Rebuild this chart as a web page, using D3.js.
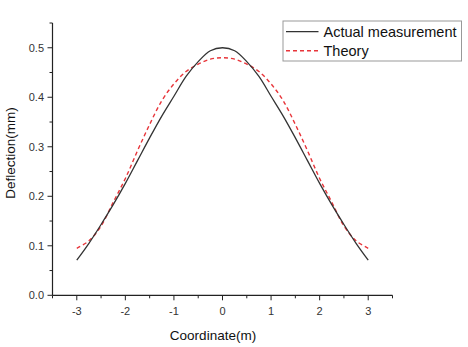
<!DOCTYPE html>
<html><head><meta charset="utf-8">
<script src="https://cdn.jsdelivr.net/npm/d3@7"></script>
<style>body{margin:0;background:#fff}svg{display:block}text{font-family:"Liberation Sans",Arial,sans-serif}</style>
</head><body>
<script>
const xs = [-3,-2.75,-2.5,-2.25,-2,-1.75,-1.5,-1.25,-1,-0.75,-0.5,-0.25,0,0.25,0.5,0.75,1,1.25,1.5,1.75,2,2.25,2.5,2.75,3];
const actual = [0.071,0.105,0.143,0.183,0.226,0.272,0.318,0.362,0.402,0.442,0.472,0.494,0.500,0.494,0.472,0.442,0.402,0.362,0.318,0.272,0.226,0.183,0.143,0.105,0.071];
const theory = [0.095,0.110,0.140,0.188,0.236,0.292,0.345,0.393,0.427,0.452,0.467,0.477,0.480,0.477,0.467,0.452,0.427,0.393,0.345,0.292,0.236,0.188,0.140,0.110,0.095];
const xTicks = [-3,-2,-1,0,1,2,3];
const yTicks = [0.0,0.1,0.2,0.3,0.4,0.5];
const seriesNames = ["Actual measurement","Theory"];

const W=468,H=347;
const svg=d3.select("body").append("svg").attr("width",W).attr("height",H);
const x=d3.scaleLinear().domain([-3.5,3.5]).range([52.5,392.5]);
const y=d3.scaleLinear().domain([0,0.55]).range([295.3,23]);

const axisColor="#222";
// x axis
const gx=svg.append("g").attr("transform","translate(0,295.3)");
gx.append("line").attr("x1",x(-3.5)).attr("x2",x(3.5)).attr("stroke",axisColor).attr("stroke-width",1.2);
d3.range(-3.5,3.51,0.5).forEach(v=>{
  const major=Number.isInteger(v);
  gx.append("line").attr("x1",x(v)).attr("x2",x(v)).attr("y1",0).attr("y2",major?5:3).attr("stroke",axisColor).attr("stroke-width",1);
});
xTicks.forEach(v=>gx.append("text").attr("x",x(v)).attr("y",20).attr("text-anchor","middle").attr("font-size",11).attr("fill","#333").text(v));
// y axis
const gy=svg.append("g").attr("transform","translate(52.5,0)");
gy.append("line").attr("y1",y(0)).attr("y2",y(0.55)).attr("stroke",axisColor).attr("stroke-width",1.2);
d3.range(0,0.551,0.05).forEach((v,i)=>{
  const major=i%2===0;
  gy.append("line").attr("y1",y(v)).attr("y2",y(v)).attr("x1",0).attr("x2",major?-5:-3).attr("stroke",axisColor).attr("stroke-width",1);
});
yTicks.forEach(v=>gy.append("text").attr("x",-8.5).attr("y",y(v)).attr("dy","0.35em").attr("text-anchor","end").attr("font-size",11).attr("fill","#333").text(v.toFixed(1)));

svg.append("text").attr("x",213).attr("y",340).attr("text-anchor","middle").attr("font-size",13.5).attr("fill","#111").text("Coordinate(m)");
svg.append("text").attr("transform","translate(15,153) rotate(-90)").attr("text-anchor","middle").attr("font-size",13.5).attr("fill","#111").text("Deflection(mm)");

const line=d3.line().x(d=>x(d[0])).y(d=>y(d[1])).curve(d3.curveCatmullRom);
svg.append("path").datum(xs.map((v,i)=>[v,theory[i]])).attr("d",line).attr("fill","none").attr("stroke","#e8353a").attr("stroke-width",1.4).attr("stroke-dasharray","4,3");
svg.append("path").datum(xs.map((v,i)=>[v,actual[i]])).attr("d",line).attr("fill","none").attr("stroke","#333").attr("stroke-width",1.3);

// legend
const lg=svg.append("g");
lg.append("rect").attr("x",283).attr("y",21).attr("width",178.5).attr("height",40).attr("fill","#fff").attr("stroke","#999").attr("stroke-width",1);
lg.append("line").attr("x1",286).attr("x2",318.5).attr("y1",31.7).attr("y2",31.7).attr("stroke","#333").attr("stroke-width",1.3);
lg.append("line").attr("x1",286).attr("x2",318.5).attr("y1",50.7).attr("y2",50.7).attr("stroke","#e8353a").attr("stroke-width",1.4).attr("stroke-dasharray","4,3");
lg.append("text").attr("x",323.5).attr("y",31.7).attr("dy","0.35em").attr("font-size",14.5).attr("fill","#111").text(seriesNames[0]);
lg.append("text").attr("x",323.5).attr("y",50.7).attr("dy","0.35em").attr("font-size",14.5).attr("fill","#111").text(seriesNames[1]);
</script>
</body></html>
